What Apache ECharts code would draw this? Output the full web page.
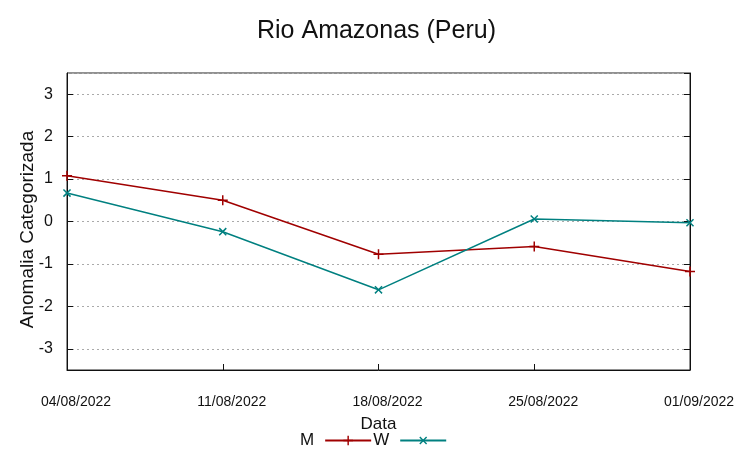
<!DOCTYPE html>
<html>
<head>
<meta charset="utf-8">
<script src="https://cdn.jsdelivr.net/npm/echarts@6/dist/echarts.min.js"></script>
<style>html,body{margin:0;padding:0;background:#fff;}#c{width:753px;height:459px;}</style>
</head>
<body>
<div id="c"></div>
<script>
const categories = ['04/08/2022', '11/08/2022', '18/08/2022', '25/08/2022', '01/09/2022'];
const seriesM = [1.08, 0.50, -0.77, -0.59, -1.18];
const seriesW = [0.67, -0.24, -1.61, 0.06, -0.03];
const titleText = 'Rio Amazonas (Peru)';

const plusPath = 'path://M8.5,0h3v8.5h8.5v3h-8.5v8.5h-3v-8.5h-8.5v-3h8.5z';
const chart = echarts.init(document.getElementById('c'));
const sans = "'Liberation Sans', Arial, sans-serif";
chart.setOption({
  animation: false,
  backgroundColor: '#fff',
  title: {
    text: titleText, left: 'center', top: 14,
    textStyle: {fontFamily: sans, fontSize: 25, fontWeight: 'normal', color: '#111'}
  },
  grid: {left: 67, right: 63, top: 73, bottom: 89, show: true, borderColor: '#222', borderWidth: 1, backgroundColor: 'transparent'},
  legend: {
    bottom: 5, left: 295, align: 'right', itemWidth: 46, itemHeight: 12, itemGap: 1,
    textStyle: {fontFamily: sans, fontSize: 17, color: '#111', padding: [0, 6, 0, 0]},
    data: ['M', 'W']
  },
  xAxis: {
    type: 'category', data: categories, boundaryGap: false,
    name: 'Data', nameLocation: 'middle', nameGap: 46, nameMoveOverlap: false,
    nameTextStyle: {fontFamily: sans, fontSize: 17, color: '#111'},
    axisLine: {onZero: false, lineStyle: {color: '#111'}},
    axisTick: {inside: true, length: 6, lineStyle: {color: '#111'}},
    axisLabel: {fontFamily: sans, fontSize: 14, color: '#111', margin: 25, padding: [0, 0, 0, 18]},
    splitLine: {show: false}
  },
  yAxis: [{
    type: 'value', min: -3.5, max: 3.5, splitNumber: 7,
    name: 'Anomalia Categorizada', nameLocation: 'middle', nameGap: 30, nameMoveOverlap: false,
    nameTextStyle: {fontFamily: sans, fontSize: 19, color: '#111', padding: [0, 16, 0, 0]},
    axisLine: {show: true, lineStyle: {color: '#111'}},
    axisTick: {show: true, inside: true, length: 6, lineStyle: {color: '#111'}},
    axisLabel: {fontFamily: sans, fontSize: 16, color: '#111', margin: 14, showMinLabel: false, showMaxLabel: false},
    splitLine: {show: true, lineStyle: {color: '#aaa', type: [2, 3], width: 1}}
  }, {
    type: 'value', min: -3.5, max: 3.5, splitNumber: 7, position: 'right',
    axisLine: {show: true, lineStyle: {color: '#111'}},
    axisTick: {show: true, inside: true, length: 6, lineStyle: {color: '#111'}},
    axisLabel: {show: false}, splitLine: {show: false}
  }],
  series: [{
    name: 'M', type: 'line', data: seriesM, color: '#a00000',
    symbol: plusPath, symbolSize: 10, showAllSymbol: true,
    lineStyle: {width: 1.5, color: '#a00000'}, itemStyle: {color: '#a00000'}
  }, {
    name: 'W', type: 'line', data: seriesW, color: '#008080',
    symbol: plusPath, symbolSize: 10, symbolRotate: 45, showAllSymbol: true,
    lineStyle: {width: 1.5, color: '#008080'}, itemStyle: {color: '#008080'}
  }]
});
</script>
</body>
</html>
